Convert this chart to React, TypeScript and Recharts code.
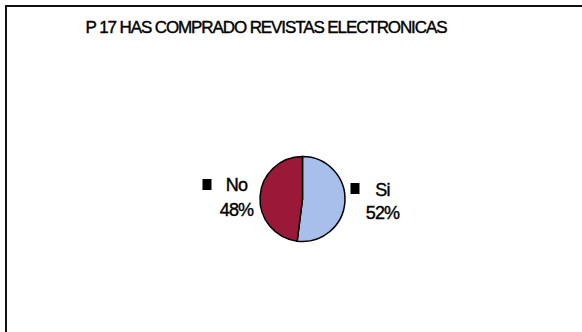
import React from 'react';
import { PieChart, Pie, Cell } from 'recharts';

const categories = ['Si', 'No'];
const shares = [52, 48];
const colors = ['#a7bfea', '#9a1838'];
const chartTitle = 'P 17 HAS COMPRADO REVISTAS ELECTRONICAS';

const data = categories.map((name, i) => ({ name, value: shares[i] }));

const RADIAN = Math.PI / 180;

const SideLabel = (props: any) => {
  const { cx, cy, midAngle, outerRadius, name, value } = props;
  const right = Math.cos(-midAngle * RADIAN) > 0;
  const x = right ? cx + outerRadius + 37.5 : cx - outerRadius - 23.5;
  const sq = right ? x - 32 : x - 34;
  const textStyle = { stroke: '#000', strokeWidth: 0.4 };
  return (
    <g>
      <rect x={sq} y={cy + (right ? -16 : -20)} width={9} height={11} fill="#000" />
      <text x={x} y={cy + (right ? -3 : -8)} textAnchor="middle" fontSize={18} fill="#000" letterSpacing={-0.8} style={textStyle}>
        {name}
      </text>
      <text x={x} y={cy + (right ? 20 : 17)} textAnchor="middle" fontSize={18} fill="#000" letterSpacing={-0.8} style={textStyle}>
        {value}%
      </text>
    </g>
  );
};

export default function App() {
  return (
    <div
      style={{
        position: 'fixed',
        left: 0,
        top: 0,
        width: 582,
        height: 332,
        background: '#fff',
        fontFamily: '"Liberation Sans", Arial, sans-serif',
      }}
    >
      <div
        style={{
          position: 'absolute',
          left: 5,
          top: 5,
          width: 577,
          height: 2,
          background: '#111',
        }}
      />
      <div
        style={{
          position: 'absolute',
          left: 5,
          top: 5,
          width: 2,
          height: 327,
          background: '#111',
        }}
      />
      <PieChart width={582} height={332} style={{ position: 'absolute', left: 0, top: 0 }}>
        <Pie
          data={data}
          dataKey="value"
          nameKey="name"
          cx={297.5}
          cy={194}
          outerRadius={42.5}
          startAngle={90}
          endAngle={-270}
          stroke="#000"
          strokeWidth={1.5}
          label={SideLabel}
          labelLine={false}
          isAnimationActive={false}
        >
          {data.map((entry, i) => (
            <Cell key={`cell-${i}`} fill={colors[i]} />
          ))}
        </Pie>
      </PieChart>
      <div
        style={{
          position: 'absolute',
          top: 18,
          left: 0,
          width: 532,
          textAlign: 'center',
          fontSize: 17,
          letterSpacing: -1.1,
          color: '#000',
          WebkitTextStroke: '0.4px #000',
        }}
      >
        {chartTitle}
      </div>
    </div>
  );
}
